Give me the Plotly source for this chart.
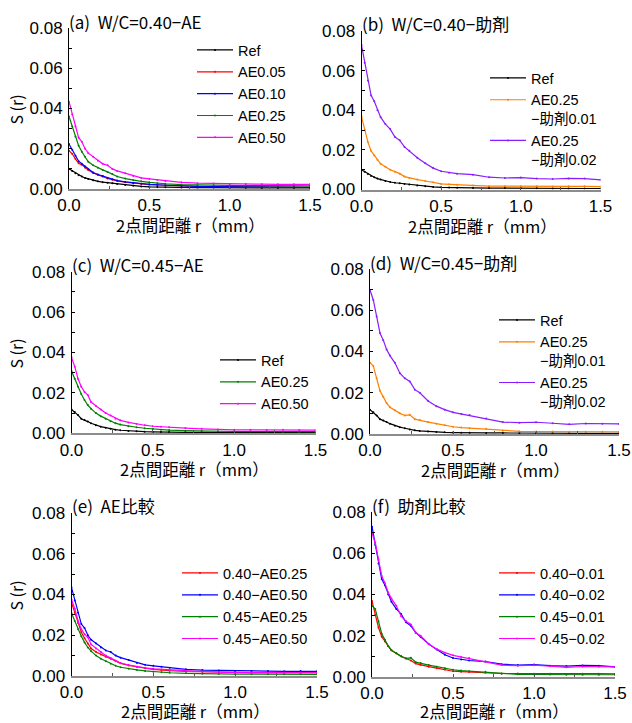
import plotly.graph_objects as go

W, H = 632, 723

# distance r (mm)
R_MM = [0, 0.02, 0.04, 0.06, 0.08, 0.10, 0.12, 0.15, 0.18, 0.21, 0.24, 0.27, 0.30,
        0.35, 0.40, 0.45, 0.50, 0.55, 0.60, 0.70, 0.80, 0.90, 1.00, 1.10, 1.20,
        1.30, 1.40, 1.50]

# W/C = 0.40 series
REF_40 = [0.0100, 0.0090, 0.0078, 0.0068, 0.0062, 0.0055, 0.0050, 0.0043, 0.0038, 0.0034,
          0.0031, 0.0028, 0.0025, 0.0020, 0.0016, 0.0013, 0.0011, 0.0010, 0.0009, 0.0008,
          0.0007, 0.0007, 0.0006, 0.0006, 0.0005, 0.0005, 0.0005, 0.0005]
AE005_40 = [0.0190, 0.0175, 0.0150, 0.0128, 0.0120, 0.0106, 0.0094, 0.0080, 0.0070, 0.0062,
            0.0052, 0.0046, 0.0040, 0.0034, 0.0029, 0.0025, 0.0022, 0.0020, 0.0018, 0.0015,
            0.0013, 0.0012, 0.0011, 0.0010, 0.0009, 0.0009, 0.0008, 0.0008]
AE010_40 = [0.0224, 0.0195, 0.0165, 0.0138, 0.0125, 0.0112, 0.0098, 0.0082, 0.0072, 0.0064,
            0.0055, 0.0048, 0.0042, 0.0035, 0.0030, 0.0026, 0.0023, 0.0021, 0.0019, 0.0015,
            0.0013, 0.0012, 0.0011, 0.0010, 0.0010, 0.0009, 0.0009, 0.0008]
AE025_40 = [0.0360, 0.0310, 0.0260, 0.0215, 0.0185, 0.0160, 0.0135, 0.0118, 0.0105, 0.0095,
            0.0085, 0.0075, 0.0062, 0.0052, 0.0044, 0.0038, 0.0033, 0.0028, 0.0026, 0.0022,
            0.0020, 0.0019, 0.0018, 0.0017, 0.0017, 0.0016, 0.0017, 0.0016]
AE050_40 = [0.0434, 0.0370, 0.0310, 0.0255, 0.0235, 0.0200, 0.0178, 0.0160, 0.0140, 0.0125,
            0.0118, 0.0100, 0.0090, 0.0078, 0.0064, 0.0055, 0.0050, 0.0045, 0.0040, 0.0033,
            0.0029, 0.0027, 0.0025, 0.0025, 0.0024, 0.0023, 0.0024, 0.0023]
ADD001_40 = [0.0368, 0.0300, 0.0240, 0.0195, 0.0172, 0.0150, 0.0130, 0.0115, 0.0100, 0.0090,
             0.0080, 0.0065, 0.0058, 0.0050, 0.0043, 0.0036, 0.0028, 0.0026, 0.0024, 0.0020,
             0.0017, 0.0017, 0.0016, 0.0016, 0.0015, 0.0016, 0.0016, 0.0015]
ADD002_40 = [0.0729, 0.0640, 0.0550, 0.0475, 0.0445, 0.0400, 0.0365, 0.0330, 0.0305, 0.0265,
             0.0248, 0.0215, 0.0195, 0.0160, 0.0133, 0.0108, 0.0092, 0.0085, 0.0080, 0.0075,
             0.0062, 0.0058, 0.0060, 0.0055, 0.0053, 0.0056, 0.0055, 0.0049]

# W/C = 0.45 series
REF_45 = [0.0118, 0.0105, 0.0090, 0.0072, 0.0066, 0.0058, 0.0050, 0.0040, 0.0033, 0.0028,
          0.0022, 0.0018, 0.0015, 0.0012, 0.0010, 0.0008, 0.0007, 0.0006, 0.0006, 0.0005,
          0.0005, 0.0004, 0.0004, 0.0004, 0.0004, 0.0003, 0.0003, 0.0003]
AE025_45 = [0.0308, 0.0270, 0.0230, 0.0195, 0.0165, 0.0140, 0.0122, 0.0100, 0.0085, 0.0072,
            0.0060, 0.0050, 0.0043, 0.0035, 0.0030, 0.0025, 0.0021, 0.0018, 0.0016, 0.0013,
            0.0011, 0.0010, 0.0009, 0.0009, 0.0009, 0.0008, 0.0008, 0.0008]
AE050_45 = [0.0376, 0.0330, 0.0270, 0.0230, 0.0205, 0.0190, 0.0155, 0.0135, 0.0118, 0.0100,
            0.0088, 0.0072, 0.0064, 0.0054, 0.0046, 0.0040, 0.0035, 0.0032, 0.0030, 0.0026,
            0.0022, 0.0019, 0.0017, 0.0017, 0.0016, 0.0017, 0.0016, 0.0016]
ADD001_45 = [0.0346, 0.0330, 0.0270, 0.0210, 0.0180, 0.0150, 0.0130, 0.0115, 0.0100, 0.0090,
             0.0093, 0.0072, 0.0068, 0.0058, 0.0050, 0.0042, 0.0035, 0.0031, 0.0028, 0.0025,
             0.0016, 0.0013, 0.0012, 0.0012, 0.0011, 0.0011, 0.0011, 0.0011]
ADD002_45 = [0.0698, 0.0650, 0.0570, 0.0490, 0.0455, 0.0410, 0.0380, 0.0345, 0.0295, 0.0270,
             0.0255, 0.0215, 0.0200, 0.0160, 0.0135, 0.0118, 0.0105, 0.0097, 0.0092, 0.0075,
             0.0058, 0.0055, 0.0057, 0.0052, 0.0047, 0.0051, 0.0050, 0.0049]

X_TICKS = [0, 0.5, 1.0, 1.5]
X_TICK_TEXT = ["0.0", "0.5", "1.0", "1.5"]
Y_TICKS = [0, 0.02, 0.04, 0.06, 0.08]
Y_TICK_TEXT = ["0.00", "0.02", "0.04", "0.06", "0.08"]

SP = "\u00a0\u00a0"
TITLES = ["(a)" + SP + "W/C=0.40−AE", "(b)" + SP + "W/C=0.40−助剤",
          "(c)" + SP + "W/C=0.45−AE", "(d)" + SP + "W/C=0.45−助剤",
          "(e)" + SP + "AE比較", "(f)" + SP + "助剤比較"]
X_TITLE = "2点間距離 r（mm）"
Y_TITLE = "S (r)"

BLACK, RED, BLUE, GREEN, MAGENTA, ORANGE, PURPLE = (
    "#000000", "#ff0000", "#0000ff", "#008000", "#ff00ff", "#ff8000", "#8a1cff")

PANELS = [
    [("Ref", REF_40, BLACK), ("AE0.05", AE005_40, RED), ("AE0.10", AE010_40, BLUE),
     ("AE0.25", AE025_40, GREEN), ("AE0.50", AE050_40, MAGENTA)],
    [("Ref", REF_40, BLACK), ("AE0.25<br>−助剤0.01", ADD001_40, ORANGE),
     ("AE0.25<br>−助剤0.02", ADD002_40, PURPLE)],
    [("Ref", REF_45, BLACK), ("AE0.25", AE025_45, GREEN), ("AE0.50", AE050_45, MAGENTA)],
    [("Ref", REF_45, BLACK), ("AE0.25<br>−助剤0.01", ADD001_45, ORANGE),
     ("AE0.25<br>−助剤0.02", ADD002_45, PURPLE)],
    [("0.40−AE0.25", AE025_40, RED), ("0.40−AE0.50", AE050_40, BLUE),
     ("0.45−AE0.25", AE025_45, GREEN), ("0.45−AE0.50", AE050_45, MAGENTA)],
    [("0.40−0.01", ADD001_40, RED), ("0.40−0.02", ADD002_40, BLUE),
     ("0.45−0.01", ADD001_45, GREEN), ("0.45−0.02", ADD002_45, MAGENTA)],
]

# plot-area boxes in pixels: (left, right, top, bottom)
BOXES = [(69, 310, 28, 189), (361.5, 600.5, 31, 189.5),
         (71.5, 315.5, 271.7, 433.3), (370, 619, 269, 434),
         (71.5, 317, 513, 676), (372, 615, 512, 677)]
# legend anchor (left px, top px)
LEGEND_POS = [(192, 34), (485, 62), (215, 344), (494, 304), (177, 557), (494, 557)]

LATIN = "Liberation Sans, Arial, Noto Sans CJK JP"
CJK = "Noto Sans CJK JP"


def px(x):
    return x / W


def py(y):
    return 1 - y / H


fig = go.Figure()
layout = dict(width=W, height=H,
              margin=dict(l=0, r=0, t=0, b=0, pad=0, autoexpand=False),
              paper_bgcolor="white", plot_bgcolor="white", showlegend=True,
              annotations=[])

for i, (series, box, lp) in enumerate(zip(PANELS, BOXES, LEGEND_POS)):
    n = "" if i == 0 else str(i + 1)
    leg = "legend" if i == 0 else f"legend{i + 1}"
    for name, vals, col in series:
        fig.add_trace(go.Scatter(
            x=R_MM, y=vals, name=name, mode="lines+markers",
            line=dict(color=col, width=1.2), marker=dict(size=2, color=col),
            xaxis=f"x{n}", yaxis=f"y{n}", legend=leg, showlegend=True))
    l, r, t, b = box
    layout[f"xaxis{n}"] = dict(
        domain=[px(l), px(r)], anchor=f"y{n}", range=[0, 1.5], automargin=False,
        tickvals=X_TICKS, ticktext=X_TICK_TEXT, ticks="inside", ticklen=3,
        tickcolor="#555", minor=dict(dtick=0.25, ticks="inside", ticklen=3, tickcolor="#555"),
        showline=True, linecolor="#8c8c8c", linewidth=2, showgrid=False, zeroline=False,
        tickfont=dict(family=LATIN, size=17, color="black"), ticklabelstandoff=0)
    layout[f"yaxis{n}"] = dict(
        domain=[py(b), py(t)], anchor=f"x{n}", range=[0, 0.08], automargin=False,
        tickvals=Y_TICKS, ticktext=Y_TICK_TEXT, ticks="inside", ticklen=3,
        tickcolor="black", minor=dict(dtick=0.01, ticks="inside", ticklen=3, tickcolor="black"),
        showline=True, linecolor="black", linewidth=1, showgrid=False, zeroline=False,
        tickfont=dict(family=LATIN, size=17, color="black"), ticklabelstandoff=2)
    layout[leg] = dict(
        x=px(lp[0]), y=py(lp[1]), xanchor="left", yanchor="top",
        bgcolor="rgba(0,0,0,0)", borderwidth=0, itemwidth=36, tracegroupgap=0,
        valign="top", font=dict(family=LATIN, size=14.5, color="black"),
        itemclick=False, itemdoubleclick=False)
    # panel title
    layout["annotations"].append(dict(
        text=TITLES[i], x=px(l - 2), y=py(t - 7), xref="paper", yref="paper",
        xanchor="left", yanchor="middle", showarrow=False,
        font=dict(family=CJK, size=17, color="black")))
    # x-axis title
    layout["annotations"].append(dict(
        text=X_TITLE, x=px((l + r) / 2 + 1), y=py(min(b + 36, 711)), xref="paper",
        yref="paper", xanchor="center", yanchor="middle", showarrow=False,
        borderpad=0, font=dict(family=CJK, size=16.5, color="black")))
    # y-axis title on left column only
    if i % 2 == 0:
        layout["annotations"].append(dict(
            text=Y_TITLE, x=px(15), y=py((t + b) / 2 + 1), xref="paper", yref="paper",
            xanchor="center", yanchor="middle", textangle=-90, showarrow=False,
            font=dict(family=CJK, size=16, color="black")))

fig.update_layout(**layout)
fig.write_html("out.html", config={"displayModeBar": False},
               post_script="document.body.style.margin='0px';")
